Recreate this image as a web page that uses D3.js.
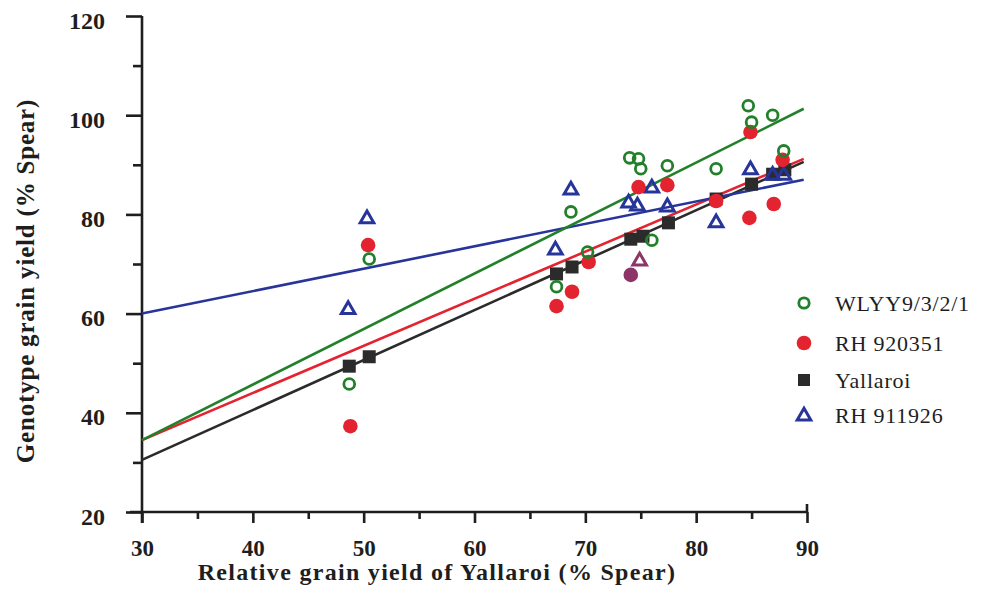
<!DOCTYPE html>
<html>
<head>
<meta charset="utf-8">
<script src="https://cdn.jsdelivr.net/npm/d3@7"></script>
<style>
  html, body { margin: 0; padding: 0; background: #fff; }
  svg { display: block; }
  svg text { font-family: "Liberation Serif", "Times New Roman", serif !important; }
</style>
</head>
<body>
<svg id="chart" width="983" height="591"></svg>
<script>
// ---- data ----
const xTicks = [30, 40, 50, 60, 70, 80, 90];
const xMinorTicks = [35, 45, 55, 65, 75, 85];
const yTicks = [20, 40, 60, 80, 100, 120];
const yMinorTicks = [30, 50, 70, 90, 110];
const seriesNames = ["WLYY9/3/2/1", "RH 920351", "Yallaroi", "RH 911926"];

const wlyyX = [48.7, 50.5, 67.4, 68.7, 70.2, 74.0, 74.8, 75.0, 76.0, 77.4, 81.8, 84.7, 85.0, 86.9, 87.9];
const wlyyY = [45.8, 71.0, 65.4, 80.5, 72.4, 91.4, 91.2, 89.2, 74.8, 89.8, 89.2, 101.9, 98.6, 100.0, 92.8];

const rhaX = [48.8, 50.4, 67.4, 68.8, 70.3, 74.8, 77.4, 81.8, 84.9, 84.8, 87.0, 87.8];
const rhaY = [37.3, 73.8, 61.5, 64.4, 70.4, 85.5, 85.9, 82.7, 96.6, 79.3, 82.1, 91.0];

const yallX = [48.7, 50.5, 67.4, 68.8, 74.1, 75.2, 77.5, 81.8, 85.0, 86.9, 88.0];
const yallY = [49.4, 51.3, 68.0, 69.4, 75.0, 75.6, 78.3, 83.1, 86.1, 88.1, 89.0];

const rhbX = [48.6, 50.3, 67.3, 68.7, 73.9, 74.7, 76.0, 77.4, 81.8, 84.9, 86.9, 87.9];
const rhbY = [61.0, 79.3, 73.0, 85.1, 82.5, 81.9, 85.5, 81.7, 78.5, 89.2, 88.1, 88.1];

// overlapping points printed in a mixed (purple) colour
const mixCircleX = [74.1], mixCircleY = [67.8];
const mixTriX = [74.9], mixTriY = [70.8];

// regression lines: [x0, y0, x1, y1]
const fitWlyy = [30, 34.5, 89.7, 101.3];
const fitRha  = [30, 34.5, 89.7, 91.2];
const fitYall = [30, 30.5, 89.7, 90.6];
const fitRhb  = [30, 60.0, 89.7, 87.0];

// ---- layout ----
const svg = d3.select("#chart");
const x = d3.scaleLinear().domain([30, 90]).range([142, 807]);
const y = d3.scaleLinear().domain([20, 120]).range([512, 16]);

const C = { green: "#22802a", red: "#e3232f", black: "#2b2b2b", blue: "#27349a", purple: "#8c3566", ink: "#1e1e1e" };
const FONT = "Liberation Serif";

// axes
const yAxis = svg.append("g").attr("transform", `translate(${x(30)},0)`)
  .call(d3.axisLeft(y).tickValues(yTicks).tickSize(16));
const yMinor = svg.append("g").attr("transform", `translate(${x(30)},0)`)
  .call(d3.axisLeft(y).tickValues(yMinorTicks).tickSize(9).tickFormat(""));
const xAxis = svg.append("g").attr("transform", `translate(0,${y(20)})`)
  .call(d3.axisBottom(x).tickValues(xTicks).tickSize(11));
const xMinor = svg.append("g").attr("transform", `translate(0,${y(20)})`)
  .call(d3.axisBottom(x).tickValues(xMinorTicks).tickSize(7).tickFormat(""));

[yAxis, yMinor, xAxis, xMinor].forEach(g => {
  g.attr("font-family", FONT);
  g.select(".domain").remove();
  g.selectAll("line").attr("stroke", C.ink).attr("stroke-width", 2.6);
  g.selectAll("text").attr("fill", C.ink).attr("font-family", FONT)
    .attr("font-size", 24).attr("font-weight", "bold");
});
yAxis.selectAll("text").attr("x", -37).attr("dy", "0.5em");
xAxis.selectAll("text").attr("y", 44).attr("dy", 0).attr("font-size", 23);

// axis lines
svg.append("line").attr("x1", x(30)).attr("x2", x(30)).attr("y1", y(120)).attr("y2", y(20) + 11)
  .attr("stroke", C.ink).attr("stroke-width", 2.6);
svg.append("line").attr("x1", x(30) - 12).attr("x2", x(90) + 1).attr("y1", y(20)).attr("y2", y(20))
  .attr("stroke", C.ink).attr("stroke-width", 2.6);
svg.append("line").attr("x1", x(90)).attr("x2", x(90)).attr("y1", y(20) - 8).attr("y2", y(20))
  .attr("stroke", C.ink).attr("stroke-width", 2.6);

// axis titles
svg.append("text").attr("x", 437).attr("y", 580)
  .attr("text-anchor", "middle").attr("fill", C.ink)
  .attr("font-family", FONT).attr("font-size", 24).attr("font-weight", "bold")
  .style("letter-spacing", "1.3px")
  .text("Relative grain yield of Yallaroi (% Spear)");
svg.append("text").attr("transform", `translate(34,281) rotate(-90)`)
  .attr("text-anchor", "middle").attr("fill", C.ink)
  .attr("font-family", FONT).attr("font-size", 25).attr("font-weight", "bold")
  .style("letter-spacing", "0.8px")
  .text("Genotype grain yield (% Spear)");

// regression lines
const plot = svg.append("g");
[[fitYall, C.black], [fitRha, C.red], [fitRhb, C.blue], [fitWlyy, C.green]].forEach(([f, col]) => {
  plot.append("line").attr("x1", x(f[0])).attr("y1", y(f[1])).attr("x2", x(f[2])).attr("y2", y(f[3]))
    .attr("stroke", col).attr("stroke-width", 2.6);
});

const zip = (xs, ys) => xs.map((v, i) => [v, ys[i]]);
const tri = d3.symbol().type(d3.symbolTriangle).size(80);

function drawSquares(pts, col) {
  plot.append("g").selectAll("rect").data(pts).join("rect")
    .attr("x", d => x(d[0]) - 6.5).attr("y", d => y(d[1]) - 6.5).attr("width", 13).attr("height", 13)
    .attr("fill", col);
}
function drawTriangles(pts, col) {
  plot.append("g").selectAll("path").data(pts).join("path")
    .attr("d", tri).attr("transform", d => `translate(${x(d[0])},${y(d[1]) + 1})`)
    .attr("fill", "none").attr("stroke", col).attr("stroke-width", 3);
}
function drawDots(pts, col) {
  plot.append("g").selectAll("circle").data(pts).join("circle")
    .attr("cx", d => x(d[0])).attr("cy", d => y(d[1])).attr("r", 7.3).attr("fill", col);
}
function drawRings(pts, col) {
  plot.append("g").selectAll("circle").data(pts).join("circle")
    .attr("cx", d => x(d[0])).attr("cy", d => y(d[1])).attr("r", 5.4)
    .attr("fill", "none").attr("stroke", col).attr("stroke-width", 2.8);
}

drawSquares(zip(yallX, yallY), C.black);
drawTriangles(zip(rhbX, rhbY), C.blue);
drawDots(zip(rhaX, rhaY), C.red);
drawRings(zip(wlyyX, wlyyY), C.green);
drawDots(zip(mixCircleX, mixCircleY), C.purple);
drawTriangles(zip(mixTriX, mixTriY), C.purple);

// legend
const legendY = [303, 343, 380, 415];
const lg = svg.append("g");
const lx = 804;
lg.append("circle").attr("cx", lx).attr("cy", legendY[0]).attr("r", 5.2)
  .attr("fill", "none").attr("stroke", C.green).attr("stroke-width", 2.8);
lg.append("circle").attr("cx", lx).attr("cy", legendY[1]).attr("r", 7.3).attr("fill", C.red);
lg.append("rect").attr("x", lx - 6).attr("y", legendY[2] - 6).attr("width", 12).attr("height", 12).attr("fill", C.black);
lg.append("path").attr("d", tri).attr("transform", `translate(${lx},${legendY[3] + 1})`)
  .attr("fill", "none").attr("stroke", C.blue).attr("stroke-width", 3);
lg.selectAll("text").data(seriesNames).join("text")
  .attr("x", 835).attr("y", (d, i) => legendY[i] + 8)
  .attr("fill", C.ink).attr("font-family", FONT).attr("font-size", 22)
  .style("letter-spacing", "0.8px")
  .text(d => d);
</script>
</body>
</html>
